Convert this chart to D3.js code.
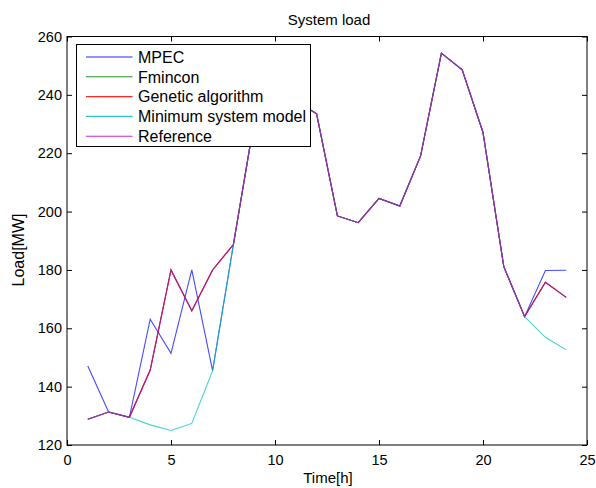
<!DOCTYPE html>
<html>
<head>
<meta charset="utf-8">
<script src="https://cdn.jsdelivr.net/npm/d3@7"></script>
<style>
  body { margin: 0; background: #fff; }
  svg text { font-family: "Liberation Sans", Arial, sans-serif; fill: #000; }
</style>
</head>
<body>
<div id="chart"></div>
<script>
// hours of the day
const hours = d3.range(1, 25);

// series values (MW)
const reference = [128.8, 131.3, 129.5, 145.7, 180.0, 166.0, 180.0, 188.7, 231.0, 236.0, 238.0, 233.5,
                   198.5, 196.2, 204.5, 201.9, 219.1, 254.3, 248.6, 227.1, 181.1, 164.0, 175.8, 170.6];
const genetic = reference.slice();
const fmincon = reference.slice();
const mpec = [147.1, 131.3, 129.5, 163.1, 151.4, 180.0, 145.5, 188.7, 231.0, 236.0, 238.0, 233.5,
              198.5, 196.2, 204.5, 201.9, 219.1, 254.3, 248.6, 227.1, 181.1, 164.0, 179.8, 179.9];
const minSystem = [128.8, 131.3, 129.5, 126.9, 125.0, 127.4, 145.5, 188.7, 231.0, 236.0, 238.0, 233.5,
                   198.5, 196.2, 204.5, 201.9, 219.1, 254.3, 248.6, 227.1, 181.1, 164.0, 156.9, 152.6];

const xTicks = [0, 5, 10, 15, 20, 25];
const yTicks = [120, 140, 160, 180, 200, 220, 240, 260];

// drawing order is the same as the legend
const seriesNames = ['MPEC', 'Fmincon', 'Genetic algorithm', 'Minimum system model', 'Reference'];
const seriesValues = [mpec, fmincon, genetic, minSystem, reference];
const seriesColors = ['#0000ff', '#008000', '#ff0000', '#00bfbf', '#bf00bf'];

const W = 596, H = 488;
const margin = { top: 36.5, right: 9, bottom: 43, left: 67 };
const width = W - margin.left - margin.right,
      height = H - margin.top - margin.bottom;

const svg = d3.select('#chart').append('svg')
    .attr('width', W)
    .attr('height', H);

const g = svg.append('g')
    .attr('transform', 'translate(' + margin.left + ',' + margin.top + ')');

const x = d3.scaleLinear().domain([0, 25]).range([0, width]);
const y = d3.scaleLinear().domain([120, 260]).range([height, 0]);

// inward ticks on all four sides, like matlab
const tickLen = 5;
g.append('g')
    .attr('transform', 'translate(0,' + height + ')')
    .call(d3.axisBottom(x).tickValues(xTicks).tickSizeInner(-tickLen).tickSizeOuter(0).tickPadding(10))
    .call(a => a.select('.domain').remove())
    .call(a => a.selectAll('text').attr('font-size', 14.5).attr('font-family', null));
g.append('g')
    .call(d3.axisTop(x).tickValues(xTicks).tickSizeInner(-tickLen).tickSizeOuter(0).tickFormat(''))
    .call(a => a.select('.domain').remove());
g.append('g')
    .call(d3.axisLeft(y).tickValues(yTicks).tickSizeInner(-tickLen).tickSizeOuter(0).tickPadding(5))
    .call(a => a.select('.domain').remove())
    .call(a => a.selectAll('text').attr('font-size', 14.5).attr('font-family', null));
g.append('g')
    .attr('transform', 'translate(' + width + ',0)')
    .call(d3.axisRight(y).tickValues(yTicks).tickSizeInner(-tickLen).tickSizeOuter(0).tickFormat(''))
    .call(a => a.select('.domain').remove());

// the lines
const line = d3.line()
    .x((d, i) => x(hours[i]))
    .y(d => y(d));

seriesValues.forEach(function (vals, k) {
    g.append('path')
        .datum(vals)
        .attr('fill', 'none')
        .attr('stroke', seriesColors[k])
        .attr('stroke-opacity', 0.72)
        .attr('stroke-width', 1.1)
        .attr('d', line);
});

// frame
g.append('rect')
    .attr('width', width)
    .attr('height', height)
    .attr('fill', 'none')
    .attr('stroke', '#000')
    .attr('stroke-width', 1);

// title + axis labels
svg.append('text')
    .attr('x', margin.left + width / 2 + 2)
    .attr('y', 25)
    .attr('text-anchor', 'middle')
    .attr('font-size', 15)
    .text('System load');
svg.append('text')
    .attr('x', margin.left + width / 2 + 1)
    .attr('y', 483)
    .attr('text-anchor', 'middle')
    .attr('font-size', 15)
    .text('Time[h]');
svg.append('text')
    .attr('transform', 'translate(24,250) rotate(-90)')
    .attr('text-anchor', 'middle')
    .attr('font-size', 16)
    .text('Load[MW]');

// legend
const lg = svg.append('g').attr('transform', 'translate(76.5,44.5)');
lg.append('rect')
    .attr('width', 234)
    .attr('height', 102)
    .attr('fill', '#fff')
    .attr('stroke', '#000')
    .attr('stroke-width', 1);
seriesNames.forEach(function (name, k) {
    const ry = 12.5 + k * 19.8;
    lg.append('line')
        .attr('x1', 9.5).attr('x2', 56)
        .attr('y1', ry).attr('y2', ry)
        .attr('stroke', seriesColors[k])
        .attr('stroke-opacity', 0.85)
        .attr('stroke-width', 1.1);
    lg.append('text')
        .attr('x', 61.5)
        .attr('y', ry)
        .attr('dy', '0.36em')
        .attr('font-size', 16)
        .text(name);
});
</script>
</body>
</html>
